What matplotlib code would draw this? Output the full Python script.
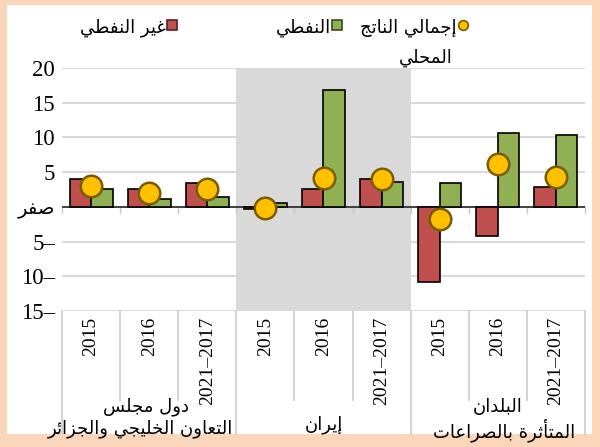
import numpy as np
import matplotlib
matplotlib.use('Agg')
import matplotlib.pyplot as plt
from matplotlib.lines import Line2D
from matplotlib.patches import Rectangle
import matplotlib.transforms as mtransforms

# ---- data ----
year_labels = ['2015', '2016', '2021–2017'] * 3
group_names = ['دول مجلس التعاون الخليجي والجزائر', 'إيران', 'البلدان المتأثرة بالصراعات']
non_oil = [4.0, 2.5, 3.5, -0.35, 2.5, 4.0, -10.8, -4.2, 2.8]
oil = [2.5, 1.1, 1.4, 0.5, 16.8, 3.6, 3.4, 10.7, 10.4]
gdp = [3.0, 2.0, 2.5, -0.15, 4.1, 4.0, -1.8, 6.2, 4.3]
y_ticks = [20, 15, 10, 5, 0, -5, -10, -15]
y_tick_labels = ['20', '15', '10', '5', 'صفر', '5–', '10–', '15–']
legend_names = ['غير النفطي', 'النفطي', 'إجمالي الناتج المحلي']

RED = '#C0504D'
GREEN = '#8FB153'
GOLD = '#FFC000'
PEACH = '#FBD6B8'
SHADE = '#D9D9D9'
GRID = '#D9D9D9'

# ---- tiny Arabic shaper (matplotlib has no complex text layout) ----
RIGHT_JOIN = {'ا': 0xFE8D, 'أ': 0xFE83, 'إ': 0xFE87, 'آ': 0xFE81, 'ة': 0xFE93,
              'د': 0xFEA9, 'ذ': 0xFEAB, 'ر': 0xFEAD, 'ز': 0xFEAF, 'و': 0xFEED,
              'ى': 0xFEEF, 'ؤ': 0xFE85}
DUAL_JOIN = {'ب': 0xFE8F, 'ت': 0xFE95, 'ث': 0xFE99, 'ج': 0xFE9D, 'ح': 0xFEA1,
             'خ': 0xFEA5, 'س': 0xFEB1, 'ش': 0xFEB5, 'ص': 0xFEB9, 'ض': 0xFEBD,
             'ط': 0xFEC1, 'ظ': 0xFEC5, 'ع': 0xFEC9, 'غ': 0xFECD, 'ف': 0xFED1,
             'ق': 0xFED5, 'ك': 0xFED9, 'ل': 0xFEDD, 'م': 0xFEE1, 'ن': 0xFEE5,
             'ه': 0xFEE9, 'ي': 0xFEF1, 'ئ': 0xFE89}


def shape(text):
    """Turn logical Arabic text into visual-order presentation forms."""
    if not any(c in RIGHT_JOIN or c in DUAL_JOIN for c in text):
        return text
    out = []
    n = len(text)
    for i, ch in enumerate(text):
        if ch not in RIGHT_JOIN and ch not in DUAL_JOIN:
            out.append(ch)
            continue
        prev = text[i - 1] if i > 0 else ''
        nxt = text[i + 1] if i < n - 1 else ''
        join_prev = prev in DUAL_JOIN
        join_next = ch in DUAL_JOIN and (nxt in DUAL_JOIN or nxt in RIGHT_JOIN)
        base = DUAL_JOIN.get(ch, RIGHT_JOIN.get(ch))
        if join_prev and join_next:
            code = base + 3
        elif join_prev:
            code = base + 1
        elif join_next:
            code = base + 2
        else:
            code = base
        out.append(chr(code))
    return ''.join(out)[::-1]


SERIF = ['Liberation Serif', 'DejaVu Sans']
ARABIC = ['DejaVu Sans']
AR_SIZE = 13

fig = plt.figure(figsize=(6, 4.47), dpi=100)
fig.patch.set_facecolor(PEACH)
W, H = 600, 447
fig.add_artist(Rectangle((7 / W, 1 - 434 / H), 585 / W, 429 / H,
                         transform=fig.transFigure, facecolor='white',
                         edgecolor='none', zorder=0))

ax = fig.add_axes([62 / W, 1 - 311 / H, 523 / W, 243 / H])
ax.set_facecolor('none')
for s in ax.spines.values():
    s.set_visible(False)

x = np.arange(len(year_labels))
bw = 0.37

# shaded Iran block
ax.axvspan(2.5, 5.5, color=SHADE, zorder=1, lw=0)
for yv in y_ticks:
    if yv != 0:
        ax.axhline(yv, color=GRID, lw=1.5, zorder=0.5)

ax.bar(x - bw / 2, non_oil, bw, color=RED, edgecolor='black', lw=1.2, zorder=3)
ax.bar(x + bw / 2, oil, bw, color=GREEN, edgecolor='black', lw=1.2, zorder=3)
ax.axhline(0, color='#333333', lw=1.3, zorder=2.5)
ax.plot(x, gdp, 'o', ms=15.5, mfc=GOLD, mec='#7A5C00', mew=1.8, zorder=4)

ax.set_xlim(-0.5, 8.5)
ax.set_ylim(-15, 20)
ax.set_yticks(y_ticks)
ax.set_yticklabels([shape(t) for t in y_tick_labels], family=SERIF, fontsize=16.5)
for t in ax.get_yticklabels():
    if t.get_text() != t.get_text().strip('0123456789–'):
        continue
    t.set_fontsize(14)
    t.set_family(ARABIC)
ax.tick_params(axis='y', length=0, pad=5)
ax.set_xticks(x)
ax.set_xticklabels(year_labels, rotation=90, family=SERIF, fontsize=14, va='top')
ax.tick_params(axis='x', length=0, pad=4)

# small ticks under zero line and separators under the plot
trans = mtransforms.blended_transform_factory(ax.transData, ax.transAxes)
px = 1 / 243.0
for b in np.arange(-0.5, 9.0, 1.0):
    ax.plot([b, b], [0, -0.9], color='#C8C8C8', lw=1, zorder=2, clip_on=False)
    bottom = -123 * px if b in (-0.5, 2.5, 5.5, 8.5) else -89 * px
    ax.plot([b, b], [0, bottom], color='#D0D0D0', lw=1.3, transform=trans,
            clip_on=False, zorder=0.5)

# group labels
ax.text(0.95, -86 * px, shape('دول مجلس'), transform=trans, ha='center', va='top',
        family=ARABIC, fontsize=AR_SIZE)
ax.text(2.45, -108 * px, shape('التعاون الخليجي والجزائر'), transform=trans,
        ha='right', va='top', family=ARABIC, fontsize=AR_SIZE)
ax.text(4, -104 * px, shape(group_names[1]), transform=trans, ha='center',
        va='top', family=ARABIC, fontsize=AR_SIZE)
ax.text(7, -87 * px, shape('البلدان'), transform=trans, ha='center', va='top',
        family=ARABIC, fontsize=AR_SIZE)
ax.text(7.1, -107 * px, shape('المتأثرة بالصراعات'), transform=trans,
        ha='center', va='top', family=ARABIC, fontsize=AR_SIZE)

# legend, drawn by hand to keep the right-to-left layout
def fx(p):
    return p / W


def fy(p):
    return 1 - p / H


fig.text(fx(166), fy(28), shape(legend_names[0]), ha='right', va='center',
         family=ARABIC, fontsize=AR_SIZE)
fig.add_artist(Line2D([fx(172)], [fy(25)], marker='s', ms=7, mfc=RED,
                      mec='#5A1E1E', mew=1.2, transform=fig.transFigure))
fig.text(fx(331), fy(28), shape(legend_names[1]), ha='right', va='center',
         family=ARABIC, fontsize=AR_SIZE)
fig.add_artist(Line2D([fx(337)], [fy(25)], marker='s', ms=7, mfc=GREEN,
                      mec='#3A4A1E', mew=1.2, transform=fig.transFigure))
fig.text(fx(457), fy(28), shape('إجمالي الناتج'), ha='right', va='center',
         family=ARABIC, fontsize=AR_SIZE)
fig.text(fx(426), fy(58), shape('المحلي'), ha='center', va='center',
         family=ARABIC, fontsize=AR_SIZE)
fig.add_artist(Line2D([fx(463)], [fy(25)], marker='o', ms=7, mfc=GOLD,
                      mec='#7A5C00', mew=1.2, transform=fig.transFigure))

fig.savefig('out.png', dpi=100, facecolor=fig.get_facecolor())
